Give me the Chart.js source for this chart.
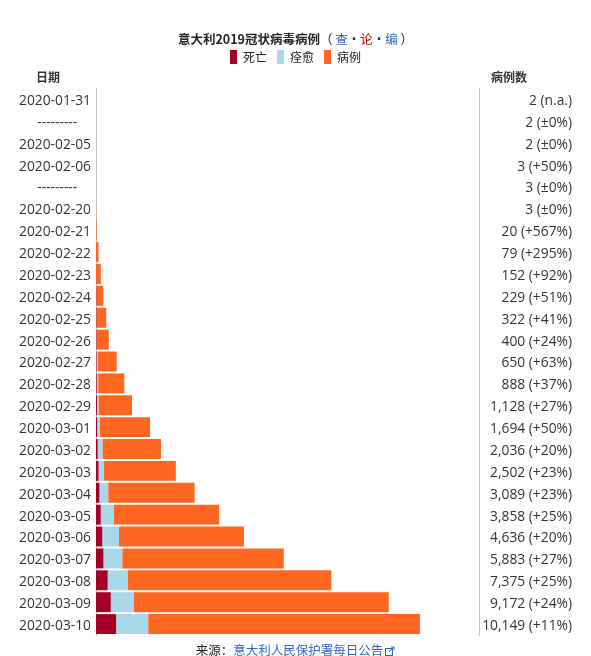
<!DOCTYPE html>
<html>
<head>
<meta charset="utf-8">
<script src="https://cdn.jsdelivr.net/npm/chart.js@4.4.1/dist/chart.umd.min.js"></script>
<style>
  body { margin: 0; background: #fff; font-family: "Noto Sans CJK SC", sans-serif; }
  #wrap { position: relative; width: 591px; height: 656px; }
  #wrap canvas { position: absolute; left: 0; top: 0; }
  .txt { position: absolute; white-space: nowrap; color: #222; }
  #title { left: 0; width: 591px; top: 29px; text-align: center; font-size: 12.5px; font-weight: bold; }
  #title .nav { font-weight: normal; }
  .blue { color: #3366cc; }
  .red { color: #ba0000; }
  .head { top: 68px; font-size: 12px; font-weight: bold; color: #333; }
  #source { left: 0; width: 591px; top: 640px; text-align: center; font-size: 12.5px; }
</style>
</head>
<body>
<div id="wrap">
  <canvas id="casesChart" width="591" height="656"></canvas>
  <div id="title" class="txt">意大利2019冠状病毒病例<span class="nav">（ <span class="blue">查</span>•<span class="red">论</span>•<span class="blue">编</span> ）</span></div>
  <div class="txt head" style="left:36px">日期</div>
  <div class="txt head" style="left:491px">病例数</div>
  <div id="source" class="txt">来源：<span class="blue">意大利人民保护署每日公告</span><svg width="10" height="10" viewBox="0 0 10 10" style="margin-left:2px;vertical-align:-1px"><rect x="0.5" y="2.5" width="7" height="7" fill="none" stroke="#3366cc"/><path d="M4 6 L9 1 M6 1 H9 V4" fill="none" stroke="#3366cc"/></svg></div>
</div>
<script>
// Italy COVID-19 cases, daily bulletin
const dates = ['2020-01-31', '---------', '2020-02-05', '2020-02-06', '---------', '2020-02-20',
  '2020-02-21', '2020-02-22', '2020-02-23', '2020-02-24', '2020-02-25', '2020-02-26', '2020-02-27',
  '2020-02-28', '2020-02-29', '2020-03-01', '2020-03-02', '2020-03-03', '2020-03-04', '2020-03-05',
  '2020-03-06', '2020-03-07', '2020-03-08', '2020-03-09', '2020-03-10'];

const caseLabels = ['2 (n.a.)', '2 (±0%)', '2 (±0%)', '3 (+50%)', '3 (±0%)', '3 (±0%)',
  '20 (+567%)', '79 (+295%)', '152 (+92%)', '229 (+51%)', '322 (+41%)', '400 (+24%)', '650 (+63%)',
  '888 (+37%)', '1,128 (+27%)', '1,694 (+50%)', '2,036 (+20%)', '2,502 (+23%)', '3,089 (+23%)',
  '3,858 (+25%)', '4,636 (+20%)', '5,883 (+27%)', '7,375 (+25%)', '9,172 (+24%)', '10,149 (+11%)'];

const deaths = [0, 0, 0, 0, 0, 0, 1, 2, 3, 7, 10, 12, 17, 21, 29, 34, 52, 79, 107, 148, 197, 233, 366, 463, 631];
const recovered = [0, 0, 0, 0, 0, 0, 0, 0, 0, 1, 1, 3, 45, 46, 50, 83, 149, 160, 276, 414, 523, 589, 622, 724, 1004];
const active = [2, 2, 2, 3, 3, 3, 19, 77, 149, 221, 311, 385, 588, 821, 1049, 1577, 1835, 2263, 2706, 3296, 3916, 5061, 6387, 7985, 8514];

const latin = '"Open Sans", "Noto Sans CJK SC", sans-serif';

// push the chart area down below the legend (room for the column headers)
const legendGap = {
  id: 'legendGap',
  beforeInit(chart) {
    const fit = chart.legend.fit;
    chart.legend.fit = function () {
      fit.call(this);
      this.height += 14;
    };
  }
};

const ctx = document.getElementById('casesChart').getContext('2d');
const casesChart = new Chart(ctx, {
  type: 'bar',
  data: {
    labels: dates,
    datasets: [
      { label: '死亡', data: deaths, backgroundColor: '#a50026' },
      { label: '痊愈', data: recovered, backgroundColor: '#a8d8ea' },
      { label: '病例', data: active, backgroundColor: '#ff6622' }
    ]
  },
  options: {
    indexAxis: 'y',
    responsive: false,
    animation: false,
    layout: { padding: { top: 40, bottom: 21, left: 19, right: 19 } },
    datasets: { bar: { categoryPercentage: 1, barPercentage: 0.91, borderWidth: 0 } },
    plugins: {
      legend: {
        position: 'top',
        labels: {
          boxWidth: 7, boxHeight: 14, padding: 10, color: '#222',
          font: { family: '"Noto Sans CJK SC", sans-serif', size: 12 }
        }
      },
      tooltip: { enabled: false }
    },
    scales: {
      x: { stacked: true, display: false, min: 0, max: 12000 },
      y: {
        stacked: true,
        offset: true,
        grid: { display: false, drawTicks: false },
        border: { display: true, color: '#c4c4c4' },
        ticks: {
          autoSkip: false, padding: 5, labelOffset: 2, color: '#333',
          font: { family: latin, size: 13.8 },
          callback: (v, i) => dates[i] === '---------' ? dates[i] + '\u2002\u2002' : dates[i]
        },
        afterFit(scale) { scale.width = 77; }
      },
      y2: {
        type: 'category',
        labels: caseLabels,
        position: 'right',
        offset: true,
        grid: { display: false, drawTicks: false },
        border: { display: true, color: '#c4c4c4' },
        ticks: {
          autoSkip: false, crossAlign: 'far', padding: 4, labelOffset: 2, color: '#333',
          font: { family: latin, size: 13.8 }
        },
        afterFit(scale) { scale.width = 93; }
      }
    }
  },
  plugins: [legendGap]
});
</script>
</body>
</html>
